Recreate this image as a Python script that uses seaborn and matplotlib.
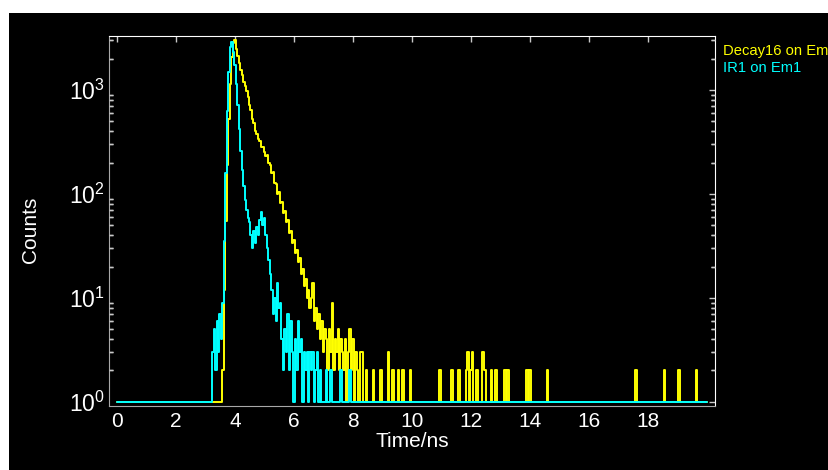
import numpy as np
import pandas as pd
import matplotlib
matplotlib.use("Agg")
import matplotlib.pyplot as plt
from matplotlib.patches import Rectangle
from matplotlib.ticker import FixedLocator, NullFormatter
import seaborn as sns

# channel width of the histogram (ns) and full time range
bin_ns = 0.05
t_end = 20.0

# IR1 on Em1 (instrument response), dense part starting at 3.20 ns
ir_start = 3.20
ir_counts = [1, 3, 5, 2, 6, 3, 7, 4, 9, 35,
             160, 620, 1500, 2600, 2900, 2300, 1750, 1150, 720, 420,
             260, 170, 118, 88, 70, 58, 54, 40, 30, 44,
             34, 48, 40, 56, 67, 50, 58, 40, 30, 23,
             17, 12, 7, 10, 6, 14, 8, 9, 4, 2,
             5, 3, 7, 2, 6, 3, 1, 4, 2, 6,
             3, 4, 1, 3, 2, 3, 1, 3, 2, 3,
             1, 2, 3, 1, 2]
ir_spike_t = [7.10, 7.25, 7.60, 7.90]
ir_spike_c = [2, 2, 2, 2]

# Decay16 on Em1, dense part starting at 3.55 ns
decay_start = 3.55
decay_counts = [1, 2, 12, 55, 190, 520, 1150, 2050, 2800, 3000,
                2450, 2100, 1800, 1560, 1380, 1200, 1090, 980, 860, 720,
                640, 530, 480, 400, 380, 335, 320, 285, 280, 255,
                230, 238, 200, 190, 158, 162, 128, 124, 100, 104,
                82, 84, 66, 68, 54, 56, 42, 44, 34, 36,
                27, 29, 22, 24, 17, 19, 13, 15, 10, 12,
                8, 10, 14, 6, 8, 5, 7, 4, 6, 3,
                5, 4, 2, 5, 3, 9, 2, 4, 3, 5,
                2, 4, 3, 2, 4, 1, 3, 5, 2, 4,
                1, 3, 2, 1, 3]
decay_spike_t = [8.30, 8.45, 8.70, 8.95, 9.20, 9.35, 9.55, 9.70, 9.95, 10.95,
                 11.35, 11.60, 11.85, 11.90, 12.00, 12.05, 12.20, 12.40, 12.45, 12.50,
                 12.70, 12.85, 13.15, 13.25, 13.90, 14.00, 14.60, 17.60, 18.55, 19.05,
                 19.65]
decay_spike_c = [3, 2, 2, 2, 3, 2, 2, 2, 2, 2,
                 2, 2, 2, 3, 2, 3, 2, 3, 2, 2,
                 2, 2, 2, 2, 2, 2, 2, 2, 2, 2,
                 2]

labels = ["Decay16 on Em", "IR1 on Em1"]
colors = ["#FFFF00", "#00FFFF"]

time_ns = np.round(np.arange(0, t_end + bin_ns / 2, bin_ns), 2)


def build(start, dense, spike_t, spike_c):
    # empty channels sit on the 10^0 floor
    counts = np.ones(len(time_ns))
    i0 = int(round(start / bin_ns))
    counts[i0:i0 + len(dense)] = dense
    for t, c in zip(spike_t, spike_c):
        counts[int(round(t / bin_ns))] = c
    return counts


df = pd.concat([
    pd.DataFrame({"Time/ns": time_ns,
                  "Counts": build(decay_start, decay_counts, decay_spike_t, decay_spike_c),
                  "trace": labels[0]}),
    pd.DataFrame({"Time/ns": time_ns,
                  "Counts": build(ir_start, ir_counts, ir_spike_t, ir_spike_c),
                  "trace": labels[1]}),
])

sns.set_style("dark", {"axes.facecolor": "black", "axes.edgecolor": "white",
                       "axes.grid": False})
plt.rcParams["font.family"] = ["Liberation Sans", "DejaVu Sans"]
plt.rcParams["mathtext.fontset"] = "custom"
plt.rcParams["mathtext.rm"] = "Liberation Sans"

fig = plt.figure(figsize=(8.29, 4.70), dpi=100, facecolor="white")
ax = fig.add_axes([109 / 829, 64 / 470, 606 / 829, 370 / 470])

sns.lineplot(data=df, x="Time/ns", y="Counts", hue="trace", hue_order=labels,
             palette=dict(zip(labels, colors)), drawstyle="steps-mid",
             linewidth=1.4, errorbar=None, legend=False, ax=ax)

ax.set_yscale("log")
ax.set_ylim(0.91, 3300)
ax.yaxis.set_minor_locator(FixedLocator([k * 10.0 ** e for e in range(-1, 4) for k in range(2, 10)]))
ax.yaxis.set_minor_formatter(NullFormatter())
ax.tick_params(which="both", direction="in", top=True, right=True,
               colors="#c8c8c8", labelcolor="white")
ax.tick_params(which="major", length=4, width=1)
ax.tick_params(axis="y", which="minor", length=3, width=1, left=True, right=True)

ax.set_xlim(-0.27, 20.27)
ax.set_xticks(range(0, 19, 2))
ax.tick_params(axis="x", labelsize=15, pad=4)
ax.tick_params(axis="y", labelsize=16.5, pad=3)

for side in ["left", "bottom"]:
    ax.spines[side].set_color("#a8a8a8")

# inward minor tick marks on both y spines, placed at the locator's values
lo, hi = ax.get_ylim()
minor_locs = [v for v in ax.yaxis.get_minorticklocs() if lo <= v <= hi]
tick_len = 4 / 606
ax.hlines(minor_locs, 0, tick_len, transform=ax.get_yaxis_transform(),
          colors="#c8c8c8", linewidth=1, clip_on=False, zorder=3)
ax.hlines(minor_locs, 1 - tick_len, 1, transform=ax.get_yaxis_transform(),
          colors="#c8c8c8", linewidth=1, clip_on=False, zorder=3)

ax.set_xlabel("Time/ns", color="white", fontsize=15, labelpad=1)
ax.set_ylabel("Counts", color="white", fontsize=15)
ax.yaxis.set_label_coords(-0.114, 0.476)

# black canvas with the thin white margin at top and left
fig.patches.append(Rectangle((9 / 829, 0), 1, (470 - 13) / 470, transform=fig.transFigure,
                             facecolor="black", edgecolor="none", zorder=-10, figure=fig))

fig.text(723 / 829, (470 - 55) / 470, labels[0], color=colors[0], fontsize=10.6, va="baseline")
fig.text(723 / 829, (470 - 72) / 470, labels[1], color=colors[1], fontsize=10.6, va="baseline")

fig.savefig("out.png", dpi=100, facecolor=fig.get_facecolor())
